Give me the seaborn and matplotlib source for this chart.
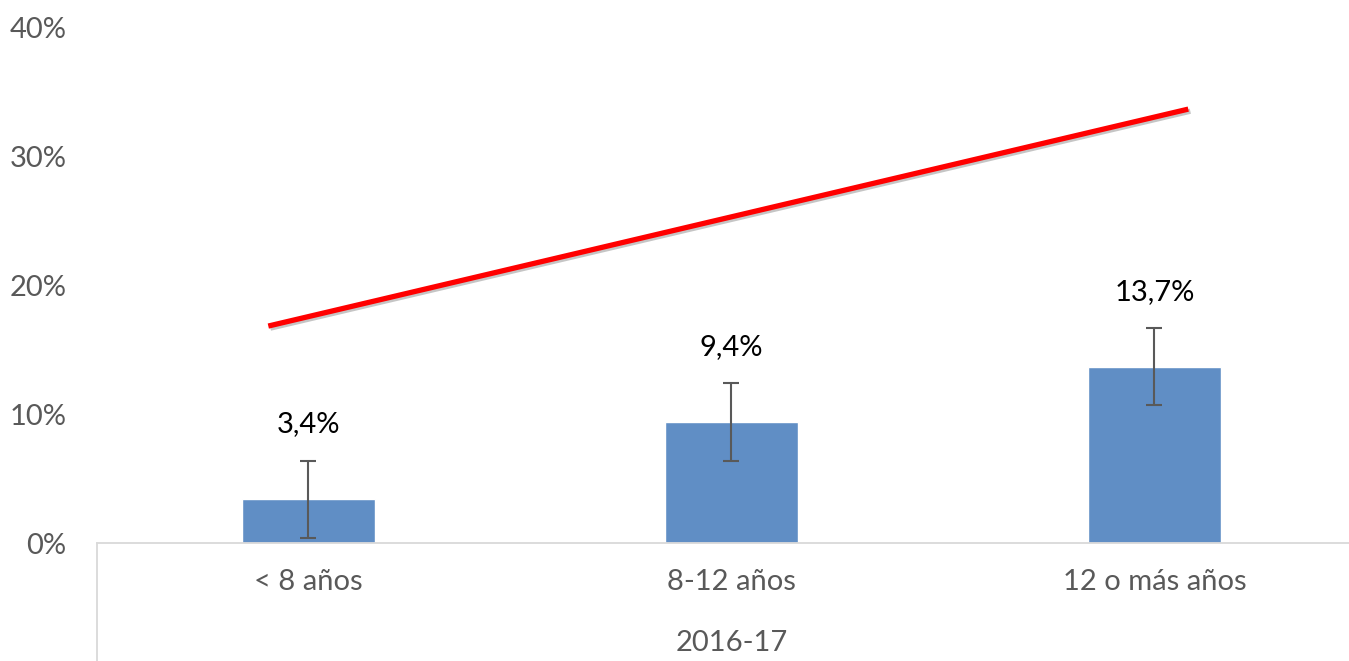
import matplotlib
matplotlib.use("Agg")
import matplotlib.pyplot as plt
import matplotlib.patheffects as pe
import seaborn as sns
import pandas as pd

# data
categories = ["< 8 años", "8-12 años", "12 o más años"]
values = [3.4, 9.4, 13.7]
errors = [3.0, 3.0, 3.0]
value_labels = ["3,4%", "9,4%", "13,7%"]
group_label = "2016-17"
trend_x = [-0.095, 2.08]
trend_y = [16.85, 33.7]
y_ticks = [0, 10, 20, 30, 40]

df = pd.DataFrame({"category": categories, "value": values, "error": errors})

sns.set_theme(style="white")
plt.rcParams['font.family'] = ['Lato', 'DejaVu Sans']

fig = plt.figure(figsize=(13.49, 6.61), dpi=100)
ax = fig.add_axes([97 / 1349, 118 / 661, 1 - 97 / 1349, (543 - 28) / 661])

sns.barplot(data=df, x="category", y="value", color="#608EC5", saturation=1,
            width=0.314, errorbar=None, ax=ax)
ax.errorbar(range(len(df)), df["value"], yerr=df["error"], fmt="none",
            ecolor="#595959", elinewidth=1.5, capsize=6, capthick=1.5)

for i, (v, e, lab) in enumerate(zip(df["value"], df["error"], value_labels)):
    ax.annotate(lab, (i, v + e), xytext=(0, 26), textcoords="offset points",
                ha="center", va="center", fontsize=21, color="black")

ax.plot(trend_x, trend_y, color="#FF0000", lw=3.8, solid_capstyle="butt",
        path_effects=[pe.SimpleLineShadow(offset=(1.5, -1.5), alpha=0.25), pe.Normal()])

ax.set_xlim(-0.5, 2.46)
ax.set_ylim(0, 40)
ax.set_yticks(y_ticks)
ax.set_yticklabels([f"{t}%" for t in y_ticks], fontsize=21, color="#595959")
ax.tick_params(axis="y", length=0, pad=22)
ax.tick_params(axis="x", length=0, pad=19, labelsize=21, labelcolor="#595959")
ax.set_xlabel("")
ax.set_ylabel("")

for side in ["left", "right", "top"]:
    ax.spines[side].set_visible(False)
ax.spines["bottom"].set_color("#D9D9D9")
ax.spines["bottom"].set_linewidth(1.3)

# category group separator below the axis
ax.plot([0, 0], [0, -118 / 515], transform=ax.transAxes, color="#D9D9D9",
        lw=1.3, clip_on=False)
ax.text(1, -100 / 515, group_label, transform=ax.get_xaxis_transform(),
        ha="center", va="center", fontsize=21, color="#595959")

fig.savefig("out.png", dpi=100)
